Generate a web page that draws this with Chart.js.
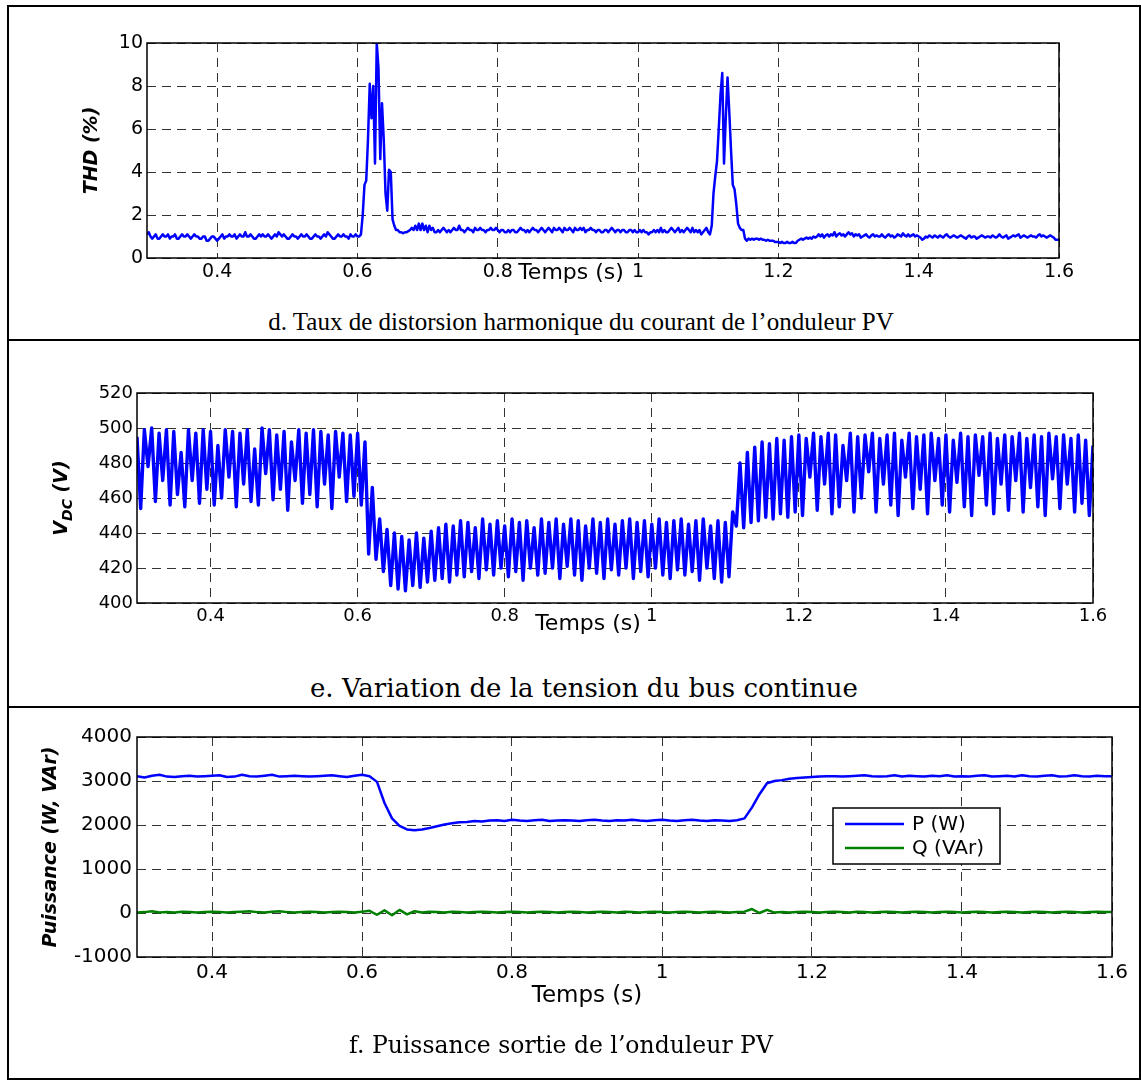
<!DOCTYPE html>
<html>
<head>
<meta charset="utf-8">
<title>Onduleur PV</title>
<script src="https://cdn.jsdelivr.net/npm/chart.js@4.4.0/dist/chart.umd.min.js"></script>
<style>
  body { margin: 0; background: #fff; }
  #page { position: relative; width: 1141px; height: 1080px; overflow: hidden; background: #fff; }
  .frame { position: absolute; left: 7px; top: 5px; width: 1130px; height: 1071px; border: 2px solid #000; }
  .sep { position: absolute; left: 7px; width: 1134px; height: 2px; background: #000; }
  .panel { position: absolute; left: 0; }
  .cap { position: absolute; width: 900px; text-align: center; font-family: "DejaVu Serif", serif; line-height: 30px; color: #000; white-space: nowrap; }
</style>
</head>
<body>
<div id="page">
  <div class="frame"></div>
  <div class="sep" style="top:339px"></div>
  <div class="sep" style="top:706px"></div>
  <canvas id="thdChart" class="panel" width="1141" height="300" style="top:0"></canvas>
  <canvas id="vdcChart" class="panel" width="1141" height="330" style="top:340px"></canvas>
  <canvas id="powChart" class="panel" width="1141" height="330" style="top:707px"></canvas>
  <div class="cap" style="left:131px; top:307px; font-size:25px; font-family:'Liberation Serif', serif">d. Taux de distorsion harmonique du courant de l’onduleur PV</div>
  <div class="cap" style="left:134px; top:673px; font-size:26px">e. Variation de la tension du bus continue</div>
  <div class="cap" style="left:111px; top:1030px; font-size:23.5px">f. Puissance sortie de l’onduleur PV</div>
</div>
<script>
// axe du temps commun
const tStart = 0.3;
const tEnd = 1.6;
const timeTicks = [0.4, 0.6, 0.8, 1, 1.2, 1.4, 1.6];

// THD (%) - un point toutes les 2.5 ms
const thdStep = 0.0025;
const thdValues = [
  1.1, 1.2, 1.0, 0.9, 1.0, 1.1, 0.9, 0.9, 1.0, 1.1, 1.0, 1.0, 1.1, 0.9, 1.0, 1.0, 1.1, 0.9, 0.9, 1.0,
  1.1, 1.0, 1.0, 1.1, 1.0, 0.9, 1.0, 1.1, 1.0, 1.0, 0.9, 0.9, 1.0, 1.0, 0.8, 0.8, 0.9, 1.0, 1.0, 0.9,
  0.8, 0.9, 1.0, 1.1, 0.9, 1.0, 1.0, 1.1, 1.0, 1.0, 1.1, 0.9, 1.0, 1.1, 1.0, 1.0, 1.2, 1.0, 1.0, 1.1,
  1.0, 0.9, 0.9, 1.0, 1.1, 1.0, 1.1, 1.0, 1.0, 1.1, 1.0, 0.9, 1.0, 1.1, 1.0, 1.2, 1.1, 1.0, 1.1, 1.0,
  0.9, 0.9, 1.0, 1.1, 1.0, 1.0, 0.9, 1.0, 1.1, 1.0, 1.0, 1.1, 1.0, 0.9, 0.9, 1.0, 1.1, 1.0, 1.0, 0.9,
  1.0, 1.1, 1.0, 1.2, 1.1, 1.0, 0.9, 0.9, 1.0, 1.1, 1.0, 1.0, 1.1, 1.0, 1.0, 0.9, 1.1, 1.0, 1.0, 1.1,
  1.0, 1.0, 1.1, 2.0, 3.4, 3.6, 5.5, 8.1, 6.5, 8.0, 4.4, 10.0, 8.8, 4.6, 7.2, 5.5, 3.0, 2.2, 4.1, 4.0,
  1.8, 1.5, 1.3, 1.3, 1.2, 1.2, 1.15, 1.2, 1.2, 1.25, 1.3, 1.4, 1.3, 1.5, 1.3, 1.6, 1.3, 1.6, 1.3, 1.5,
  1.2, 1.5, 1.3, 1.4, 1.2, 1.2, 1.3, 1.2, 1.3, 1.4, 1.3, 1.2, 1.3, 1.2, 1.3, 1.4, 1.3, 1.3, 1.5, 1.3,
  1.3, 1.2, 1.3, 1.4, 1.3, 1.3, 1.2, 1.4, 1.3, 1.3, 1.4, 1.3, 1.3, 1.2, 1.3, 1.3, 1.4, 1.3, 1.3, 1.4,
  1.3, 1.2, 1.3, 1.3, 1.2, 1.2, 1.3, 1.2, 1.3, 1.3, 1.2, 1.2, 1.3, 1.4, 1.3, 1.3, 1.2, 1.3, 1.2, 1.3,
  1.4, 1.3, 1.3, 1.2, 1.3, 1.4, 1.3, 1.2, 1.3, 1.4, 1.3, 1.2, 1.4, 1.3, 1.3, 1.4, 1.3, 1.2, 1.4, 1.3,
  1.3, 1.4, 1.3, 1.2, 1.4, 1.3, 1.3, 1.4, 1.3, 1.4, 1.2, 1.3, 1.3, 1.4, 1.3, 1.3, 1.2, 1.3, 1.3, 1.2,
  1.2, 1.3, 1.3, 1.2, 1.3, 1.4, 1.3, 1.2, 1.3, 1.3, 1.2, 1.3, 1.3, 1.2, 1.2, 1.3, 1.3, 1.2, 1.3, 1.2,
  1.2, 1.3, 1.2, 1.3, 1.2, 1.2, 1.1, 1.2, 1.2, 1.3, 1.2, 1.3, 1.2, 1.4, 1.2, 1.3, 1.2, 1.2, 1.3, 1.4,
  1.3, 1.2, 1.3, 1.4, 1.2, 1.3, 1.2, 1.3, 1.4, 1.3, 1.2, 1.4, 1.2, 1.3, 1.2, 1.3, 1.1, 1.2, 1.3, 1.4,
  1.2, 1.1, 1.5, 3.0, 3.8, 4.5, 6.0, 7.6, 8.6, 4.4, 6.5, 8.4, 6.8, 5.0, 3.4, 3.2, 2.5, 1.6, 1.4, 1.3,
  1.3, 0.9, 0.8, 0.9, 0.85, 0.9, 0.85, 0.9, 0.9, 0.85, 0.9, 0.85, 0.85, 0.8, 0.85, 0.8, 0.8, 0.8, 0.75, 0.75,
  0.75, 0.7, 0.75, 0.7, 0.7, 0.75, 0.7, 0.7, 0.75, 0.7, 0.7, 0.8, 0.85, 0.9, 0.85, 0.9, 0.95, 0.9, 0.95, 0.9,
  1.0, 0.95, 1.0, 1.1, 1.0, 1.1, 0.95, 1.05, 1.1, 1.0, 1.1, 1.05, 1.2, 1.0, 1.1, 1.15, 1.05, 1.1, 1.0, 1.1,
  1.2, 1.1, 1.15, 1.0, 1.1, 1.05, 1.1, 0.95, 1.0, 1.05, 1.1, 1.0, 0.95, 1.05, 1.1, 1.0, 1.05, 1.0, 1.0, 1.1,
  1.0, 0.95, 1.05, 1.1, 1.0, 1.05, 0.95, 1.0, 1.1, 1.05, 1.0, 1.15, 1.05, 1.0, 1.1, 1.0, 1.05, 1.1, 1.0, 1.05,
  1.0, 0.95, 0.85, 0.9, 1.0, 0.95, 1.05, 1.0, 0.95, 1.05, 1.0, 0.95, 1.05, 1.0, 0.95, 1.05, 1.1, 1.0, 0.95, 1.0,
  1.05, 1.0, 0.95, 1.0, 1.05, 1.0, 0.95, 0.9, 1.0, 1.05, 0.95, 1.0, 1.0, 0.9, 0.95, 1.0, 1.05, 1.0, 0.95, 1.0,
  1.0, 0.95, 1.05, 1.0, 0.95, 1.0, 1.1, 1.0, 0.95, 1.0, 1.05, 0.9, 0.95, 1.0, 1.05, 1.0, 1.05, 1.1, 0.95, 1.0,
  1.05, 1.0, 0.95, 1.0, 1.05, 1.0, 1.0, 0.95, 1.05, 1.1, 1.0, 1.05, 1.0, 0.95, 1.0, 1.05, 1.0, 0.95, 0.85, 0.85,
  0.85
];

// Vdc (V) - un point toutes les 5 ms
const vdcStep = 0.005;
const vdcValues = [
  495, 454, 499, 478, 500, 458, 497, 470, 499, 456,
  498, 462, 486, 455, 499, 470, 497, 457, 499, 465,
  498, 456, 490, 460, 499, 472, 498, 455, 497, 468,
  499, 458, 488, 456, 500, 474, 499, 459, 496, 465,
  498, 453, 492, 470, 499, 457, 497, 462, 499, 455,
  498, 468, 496, 454, 498, 472, 497, 458, 496, 461,
  497, 456, 492, 428, 466, 425, 448, 418, 442, 410,
  440, 408, 438, 407, 436, 410, 440, 409, 437, 412,
  441, 413, 443, 414, 445, 412, 444, 416, 447, 415,
  446, 418, 443, 414, 448, 419, 445, 416, 447, 420,
  444, 415, 448, 418, 446, 413, 447, 420, 443, 416,
  448, 417, 446, 420, 448, 414, 445, 421, 448, 416,
  447, 413, 444, 420, 448, 417, 446, 414, 448, 419,
  445, 416, 447, 420, 448, 414, 446, 418, 447, 415,
  445, 420, 448, 416, 446, 414, 447, 419, 448, 416,
  445, 418, 447, 413, 448, 420, 444, 414, 447, 412,
  446, 415, 452, 444, 480, 443, 486, 446, 489, 447,
  492, 449, 491, 448, 494, 451, 493, 449, 495, 452,
  496, 450, 494, 472, 497, 453, 495, 468, 497, 451,
  496, 455, 490, 470, 497, 452, 495, 460, 496, 475,
  497, 452, 494, 468, 496, 456, 497, 450, 493, 472,
  497, 454, 495, 465, 496, 451, 497, 470, 494, 456,
  496, 452, 493, 469, 497, 455, 495, 450, 496, 473,
  495, 456, 497, 451, 494, 468, 496, 453, 495, 470,
  497, 452, 494, 466, 496, 455, 495, 450, 497, 471,
  495, 454, 496, 468, 494, 452, 496, 457, 493, 450,
  490
];

// P (W) et Q (VAr) - un point toutes les 10 ms
const powStep = 0.01;
const pValues = [
  3110, 3080, 3120, 3140, 3100, 3090, 3110, 3120, 3100, 3110,
  3120, 3130, 3090, 3100, 3140, 3110, 3100, 3120, 3140, 3100,
  3110, 3120, 3110, 3100, 3110, 3120, 3130, 3110, 3090, 3120,
  3140, 3110, 2980, 2500, 2150, 1980, 1900, 1880, 1900, 1930,
  1970, 2010, 2040, 2060, 2070, 2090, 2080, 2100, 2110, 2090,
  2120, 2100, 2090, 2110, 2120, 2090, 2100, 2110, 2100, 2090,
  2110, 2120, 2100, 2090, 2110, 2100, 2120, 2100, 2090, 2110,
  2120, 2100, 2090, 2110, 2120, 2100, 2090, 2110, 2100, 2090,
  2110, 2150, 2400, 2700, 2950, 3000, 3020, 3050, 3070, 3080,
  3090, 3100, 3110, 3110, 3100, 3110, 3120, 3130, 3110, 3100,
  3110, 3130, 3100, 3120, 3110, 3100, 3120, 3110, 3130, 3100,
  3110, 3100, 3120, 3130, 3100, 3110, 3120, 3100, 3130, 3110,
  3100, 3120, 3130, 3100, 3110, 3130, 3110, 3100, 3120, 3110,
  3110
];
const qValues = [
  10, 20, 40, 10, 20, 10, 30, 20, 10, 20,
  30, 20, 10, 20, 30, 40, 20, 10, 30, 40,
  20, 10, 20, 30, 20, 10, 20, 30, 20, 10,
  30, 50, -40, 60, -50, 70, -30, 40, 10, 30,
  20, 10, 30, 20, 10, 20, 30, 20, 10, 20,
  30, 20, 10, 20, 30, 20, 10, 20, 30, 20,
  10, 20, 30, 20, 10, 30, 20, 10, 20, 30,
  20, 10, 20, 30, 20, 10, 20, 30, 20, 10,
  20, 30, 90, 0, 70, 10, 20, 10, 20, 30,
  20, 10, 20, 30, 20, 10, 30, 20, 10, 20,
  30, 20, 10, 20, 30, 20, 10, 20, 30, 20,
  10, 20, 30, 20, 10, 20, 30, 20, 10, 20,
  30, 20, 10, 20, 30, 20, 10, 20, 30, 20,
  20
];

const toPoints = (values, step) => values.map((v, i) => ({ x: +(tStart + i * step).toFixed(4), y: v }));

// cadre noir autour de la zone de tracé
const framePlugin = {
    id: 'frameBox',
    afterDatasetsDraw(chart) {
        const { ctx, chartArea: a } = chart;
        ctx.save();
        ctx.strokeStyle = '#000';
        ctx.lineWidth = 1.5;
        ctx.strokeRect(a.left, a.top, a.right - a.left, a.bottom - a.top);
        ctx.restore();
    }
};

// titres des axes (avec indice pour V_DC)
const titlePlugin = {
    id: 'axisTitles',
    afterDraw(chart, args, o) {
        const { ctx, chartArea: a } = chart;
        ctx.save();
        ctx.fillStyle = '#000';
        ctx.textBaseline = 'middle';
        ctx.textAlign = 'center';
        ctx.font = `${o.xSize}px "DejaVu Sans"`;
        ctx.fillText(o.xText, o.xCenter, o.xY);

        const mainFont = `italic bold ${o.ySize}px "DejaVu Sans"`;
        const subFont = `italic bold ${o.subSize}px "DejaVu Sans"`;
        let total = 0;
        o.yParts.forEach(p => {
            ctx.font = p.sub ? subFont : mainFont;
            total += ctx.measureText(p.text).width;
        });
        ctx.translate(o.yX, (a.top + a.bottom) / 2);
        ctx.rotate(-Math.PI / 2);
        ctx.textAlign = 'left';
        let pos = -total / 2;
        o.yParts.forEach(p => {
            ctx.font = p.sub ? subFont : mainFont;
            ctx.fillText(p.text, pos, p.sub ? 6 : 0);
            pos += ctx.measureText(p.text).width;
        });
        ctx.restore();
    }
};

// légende encadrée à l'intérieur du graphe
const boxLegendPlugin = {
    id: 'boxLegend',
    afterDraw(chart, args, o) {
        if (!o.show) return;
        const { ctx, chartArea: a } = chart;
        const left = a.right - o.fromRight - o.width;
        const top = a.top + o.fromTop;
        ctx.save();
        ctx.fillStyle = '#fff';
        ctx.fillRect(left, top, o.width, o.height);
        ctx.strokeStyle = '#000';
        ctx.lineWidth = 1.5;
        ctx.strokeRect(left, top, o.width, o.height);
        ctx.font = `${o.fontSize}px "DejaVu Sans"`;
        ctx.textBaseline = 'middle';
        ctx.textAlign = 'left';
        chart.data.datasets.forEach((ds, i) => {
            const y = top + o.rows[i];
            ctx.strokeStyle = ds.borderColor;
            ctx.lineWidth = 2.5;
            ctx.beginPath();
            ctx.moveTo(left + 12, y);
            ctx.lineTo(left + 71, y);
            ctx.stroke();
            ctx.fillStyle = '#000';
            ctx.fillText(ds.label, left + 79, y + 1);
        });
        ctx.restore();
    }
};

const makeChart = (id, cfg) => {
    const canvas = document.getElementById(id);
    const W = canvas.width;
    const H = canvas.height;
    const area = cfg.area;
    const tickFont = { family: 'DejaVu Sans', size: cfg.tickSize };
    return new Chart(canvas.getContext('2d'), {
        type: 'line',
        data: { datasets: cfg.datasets },
        options: {
            responsive: false,
            animation: false,
            devicePixelRatio: 1,
            events: [],
            layout: { padding: { left: 0, top: area.top, right: W - area.right, bottom: 0 } },
            elements: { point: { radius: 0 }, line: { tension: 0, borderJoinStyle: 'round' } },
            scales: {
                x: {
                    type: 'linear',
                    min: tStart,
                    max: tEnd,
                    afterBuildTicks: (scale) => { scale.ticks = timeTicks.map(v => ({ value: v })); },
                    afterFit: (scale) => { scale.height = H - area.bottom; },
                    grid: { color: '#333', lineWidth: 1, drawTicks: false },
                    border: { display: false, dash: [9, 6] },
                    ticks: { font: tickFont, color: '#000', padding: cfg.xPad, maxRotation: 0, autoSkip: false, callback: v => String(v) }
                },
                y: {
                    min: cfg.yMin,
                    max: cfg.yMax,
                    afterFit: (scale) => { scale.width = area.left; },
                    grid: { color: '#333', lineWidth: 1, drawTicks: false },
                    border: { display: false, dash: [9, 6] },
                    ticks: { stepSize: cfg.yStep, font: tickFont, color: '#000', padding: cfg.yPad, callback: v => String(v) }
                }
            },
            plugins: {
                legend: { display: false },
                tooltip: { enabled: false },
                axisTitles: cfg.titles,
                boxLegend: cfg.legend || { show: false }
            }
        },
        plugins: [framePlugin, titlePlugin, boxLegendPlugin]
    });
};

// d. THD
makeChart('thdChart', {
    area: { left: 147, right: 1059, top: 43, bottom: 258 },
    yMin: 0, yMax: 10, yStep: 2,
    tickSize: 19, xPad: 3, yPad: 4,
    datasets: [{ label: 'THD', data: toPoints(thdValues, thdStep), borderColor: '#0000ff', borderWidth: 2.5 }],
    titles: {
        xText: 'Temps (s)', xSize: 22, xCenter: 571, xY: 273,
        yX: 92, ySize: 19, subSize: 14, yParts: [{ text: 'THD (%)' }]
    }
});

// e. Vdc
makeChart('vdcChart', {
    area: { left: 137, right: 1093, top: 53, bottom: 263 },
    yMin: 400, yMax: 520, yStep: 20,
    tickSize: 18, xPad: 3, yPad: 4,
    datasets: [{ label: 'Vdc', data: toPoints(vdcValues, vdcStep), borderColor: '#0000ff', borderWidth: 3.4 }],
    titles: {
        xText: 'Temps (s)', xSize: 22, xCenter: 588, xY: 284,
        yX: 62, ySize: 19, subSize: 14, yParts: [{ text: 'V' }, { text: 'DC', sub: true }, { text: ' (V)' }]
    }
});

// f. Puissance
makeChart('powChart', {
    area: { left: 137, right: 1112, top: 30, bottom: 250 },
    yMin: -1000, yMax: 4000, yStep: 1000,
    tickSize: 20, xPad: 4, yPad: 5,
    datasets: [
        { label: 'P (W)', data: toPoints(pValues, powStep), borderColor: '#0000ff', borderWidth: 2.5 },
        { label: 'Q (VAr)', data: toPoints(qValues, powStep), borderColor: '#008000', borderWidth: 2.5 }
    ],
    titles: {
        xText: 'Temps (s)', xSize: 23, xCenter: 587, xY: 289,
        yX: 51, ySize: 19, subSize: 14, yParts: [{ text: 'Puissance (W, VAr)' }]
    },
    legend: { show: true, fromRight: 112, fromTop: 71, width: 167, height: 56, rows: [16, 40], fontSize: 20 }
});
</script>
</body>
</html>
